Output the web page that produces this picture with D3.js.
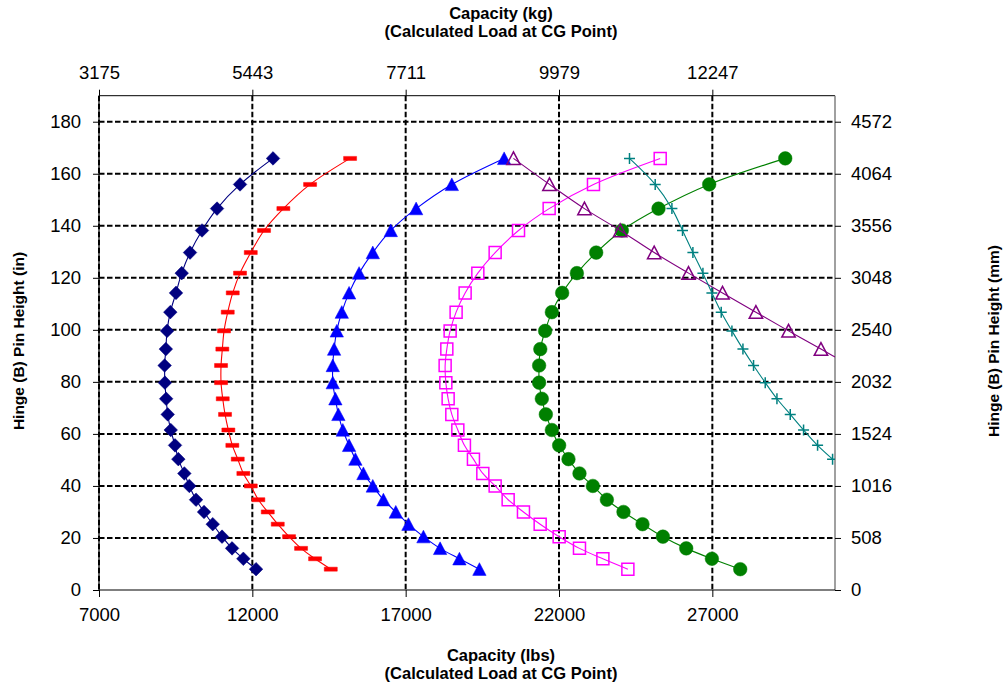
<!DOCTYPE html>
<html>
<head>
<meta charset="utf-8">
<script src="https://cdn.jsdelivr.net/npm/d3@7"></script>
<style>
  body { margin: 0; background: #fff; }
  svg { font-family: "Liberation Sans", Arial, sans-serif; }
</style>
</head>
<body>
<div id="chart"></div>
<script>
// pin heights (in) shared by all series, bottom to top
const heightsIn = [8, 12, 16, 20.5, 25.3, 30, 34.7, 40, 44.8, 50.3, 55.6, 61.5, 67.5, 73.5,
                   79.7, 86.3, 92.6, 99.6, 106.8, 114.2, 121.8, 129.7, 138.2, 146.6, 155.9, 165.9];

// capacity (lbs) per series, same order as heightsIn (null = no point)
const navyLbs = [12121, 11707, 11339, 11012, 10709, 10425, 10164, 9946, 9783, 9587, 9479, 9339, 9241,
                 9190, 9150, 9140, 9180, 9220, 9325, 9511, 9697, 9968, 10359, 10849, 11599, 12675];
const redLbs = [14558, 14046, 13589, 13198, 12829, 12503, 12196, 11949, 11707, 11524, 11348, 11218, 11110,
                11035, 10980, 10980, 11022, 11078, 11198, 11361, 11599, 11949, 12382, 13012, 13883, 15188];
const blueLbs = [19405, 18753, 18123, 17579, 17090, 16678, 16274, 15928, 15622, 15361, 15155, 14950, 14806,
                 14708, 14623, 14623, 14666, 14754, 14917, 15155, 15481, 15928, 16515, 17341, 18505, 20211];
const magentaLbs = [24246, 23431, 22668, 22005, 21386, 20841, 20342, 19918, 19516, 19210, 18916, 18701, 18505,
                    18385, 18310, 18287, 18342, 18450, 18645, 18939, 19353, 19918, 20680, 21679, 23124, 25300];
const greenLbs = [27910, 26986, 26149, 25388, 24723, 24103, 23561, 23104, 22668, 22309, 22005, 21767, 21571,
                  21440, 21352, 21352, 21390, 21548, 21767, 22103, 22583, 23213, 24050, 25245, 26898, 29378];
const purpleLbs = [null, null, null, null, null, null, null, null, null, null, null, null, null,
                   null, null, 31500, 30542, 29485, 28421, 27332, 26223, 25104, 23995, 22830, 21689, 20515];
const tealLbs = [null, null, null, null, null, null, null, null, null, 30921, 30432, 29975, 29541,
                 29107, 28725, 28344, 27998, 27639, 27290, 26986, 26693, 26366, 26028, 25682, 25137, 24299];

// axis ticks
const lbsTicks = [7000, 12000, 17000, 22000, 27000];
const kgLabels = ["3175", "5443", "7711", "9979", "12247"];
const inTicks = [0, 20, 40, 60, 80, 100, 120, 140, 160, 180];
const mmLabels = ["0", "508", "1016", "1524", "2032", "2540", "3048", "3556", "4064", "4572"];

const W = 1003, H = 685;
const MARGIN = {top: 95.7, right: 168, bottom: 95, left: 99};
const PW = W - MARGIN.left - MARGIN.right,
      PH = H - MARGIN.top - MARGIN.bottom;

const x = d3.scaleLinear().domain([7000, 31000]).range([0, PW]);
const y = d3.scaleLinear().domain([0, 190]).range([PH, 0]);

const svg = d3.select("#chart").append("svg")
    .attr("width", W).attr("height", H);

const g = svg.append("g")
    .attr("transform", `translate(${MARGIN.left},${MARGIN.top})`);

g.append("clipPath").attr("id", "plotclip")
  .append("rect").attr("width", PW).attr("height", PH);

// dashed gridlines
g.append("g").selectAll("line")
  .data(inTicks.filter(d => d > 0))
  .join("line")
    .attr("x1", 0).attr("x2", PW)
    .attr("y1", d => y(d)).attr("y2", d => y(d))
    .attr("stroke", "#000").attr("stroke-width", 2).attr("stroke-dasharray", "5.5,2.5");
g.append("g").selectAll("line")
  .data(lbsTicks)
  .join("line")
    .attr("x1", d => x(d)).attr("x2", d => x(d))
    .attr("y1", 0).attr("y2", PH)
    .attr("stroke", "#000").attr("stroke-width", 2).attr("stroke-dasharray", "5.5,2.5");

// frame
g.append("line").attr("x1", 0).attr("x2", PW).attr("y1", 0).attr("y2", 0).attr("stroke", "#000");
g.append("line").attr("x1", PW).attr("x2", PW).attr("y1", 0).attr("y2", PH).attr("stroke", "#808080").attr("stroke-width", 1.5);
g.append("line").attr("x1", 0).attr("x2", PW).attr("y1", PH).attr("y2", PH).attr("stroke", "#000").attr("stroke-width", 1.2);
g.append("line").attr("x1", 0).attr("x2", 0).attr("y1", 0).attr("y2", PH).attr("stroke", "#000").attr("stroke-width", 1.2);

// axes
function styleAxis(sel) {
  sel.select(".domain").remove();
  sel.selectAll(".tick line").attr("stroke", "#000");
  sel.selectAll(".tick text").attr("font-size", 18.5).attr("fill", "#000")
     .attr("font-family", '"Liberation Sans", Arial, sans-serif');
}
g.append("g").attr("transform", `translate(0,${PH})`)
  .call(d3.axisBottom(x).tickValues(lbsTicks).tickFormat(d3.format("d")).tickSize(7).tickPadding(11))
  .call(styleAxis);
g.append("g")
  .call(d3.axisTop(x).tickValues(lbsTicks).tickFormat((d, i) => kgLabels[i]).tickSize(6).tickPadding(11))
  .call(styleAxis);
g.append("g")
  .call(d3.axisLeft(y).tickValues(inTicks).tickFormat(d3.format("d")).tickSize(6).tickPadding(12))
  .call(styleAxis);
g.append("g").attr("transform", `translate(${PW},0)`)
  .call(d3.axisRight(y).tickValues(inTicks).tickFormat((d, i) => mmLabels[i]).tickSize(6).tickPadding(10))
  .call(styleAxis);

// markers
const markers = {
  diamond: "M0,-6.8L6.8,0L0,6.8L-6.8,0Z",
  dash: "M-6.5,-2L6.5,-2L6.5,2L-6.5,2Z",
  triangle: "M0,-6.5L6.7,6.2L-6.7,6.2Z",
  square: "M-6,-6L6,-6L6,6L-6,6Z",
  circle: "M6.8,0A6.8,6.8 0 1,1 -6.8,0A6.8,6.8 0 1,1 6.8,0Z",
  plus: "M-5.5,0L5.5,0M0,-5.5L0,5.5"
};

const series = [
  {values: navyLbs, color: "#000080", marker: "diamond", filled: true},
  {values: redLbs, color: "#ff0000", marker: "dash", filled: true},
  {values: blueLbs, color: "#0000ff", marker: "triangle", filled: true},
  {values: magentaLbs, color: "#ff00ff", marker: "square", filled: false},
  {values: greenLbs, color: "#008000", marker: "circle", filled: true},
  {values: purpleLbs, color: "#800080", marker: "triangle", filled: false},
  {values: tealLbs, color: "#008080", marker: "plus", filled: false}
];

const line = d3.line()
  .defined(d => d.lbs != null)
  .x(d => x(d.lbs)).y(d => y(d.h))
  .curve(d3.curveCatmullRom.alpha(0.5));

const plot = g.append("g").attr("clip-path", "url(#plotclip)");

series.forEach(s => {
  const pts = heightsIn.map((h, i) => ({h: h, lbs: s.values[i]}));
  const sg = plot.append("g");
  sg.append("path")
    .datum(pts.filter(d => d.lbs != null))
    .attr("fill", "none")
    .attr("stroke", s.color)
    .attr("stroke-width", 1.1)
    .attr("d", line);
  sg.selectAll("path.m")
    .data(pts.filter(d => d.lbs != null))
    .join("path")
      .attr("class", "m")
      .attr("transform", d => `translate(${x(d.lbs)},${y(d.h)})`)
      .attr("d", markers[s.marker])
      .attr("fill", s.filled ? s.color : "none")
      .attr("stroke", s.color)
      .attr("stroke-width", s.filled ? 0.5 : 1.5);
});

// titles
function title(lines, tx, ty, rot, size) {
  const t = svg.append("text")
    .attr("transform", `translate(${tx},${ty})` + (rot ? ` rotate(${rot})` : ""))
    .attr("text-anchor", "middle")
    .attr("font-weight", "bold")
    .attr("font-size", size)
    .attr("fill", "#000");
  lines.forEach((l, i) => t.append("tspan").attr("x", 0).attr("dy", i ? 18 : 0).text(l));
}
title(["Capacity (kg)", "(Calculated Load at CG Point)"], 501, 19, 0, 16.5);
title(["Capacity (lbs)", "(Calculated Load at CG Point)"], 501, 661, 0, 16.5);
title(["Hinge (B) Pin Height (in)"], 24, 341, -90, 15.5);
title(["Hinge (B) Pin Height (mm)"], 999, 341, -90, 15.5);
</script>
</body>
</html>
